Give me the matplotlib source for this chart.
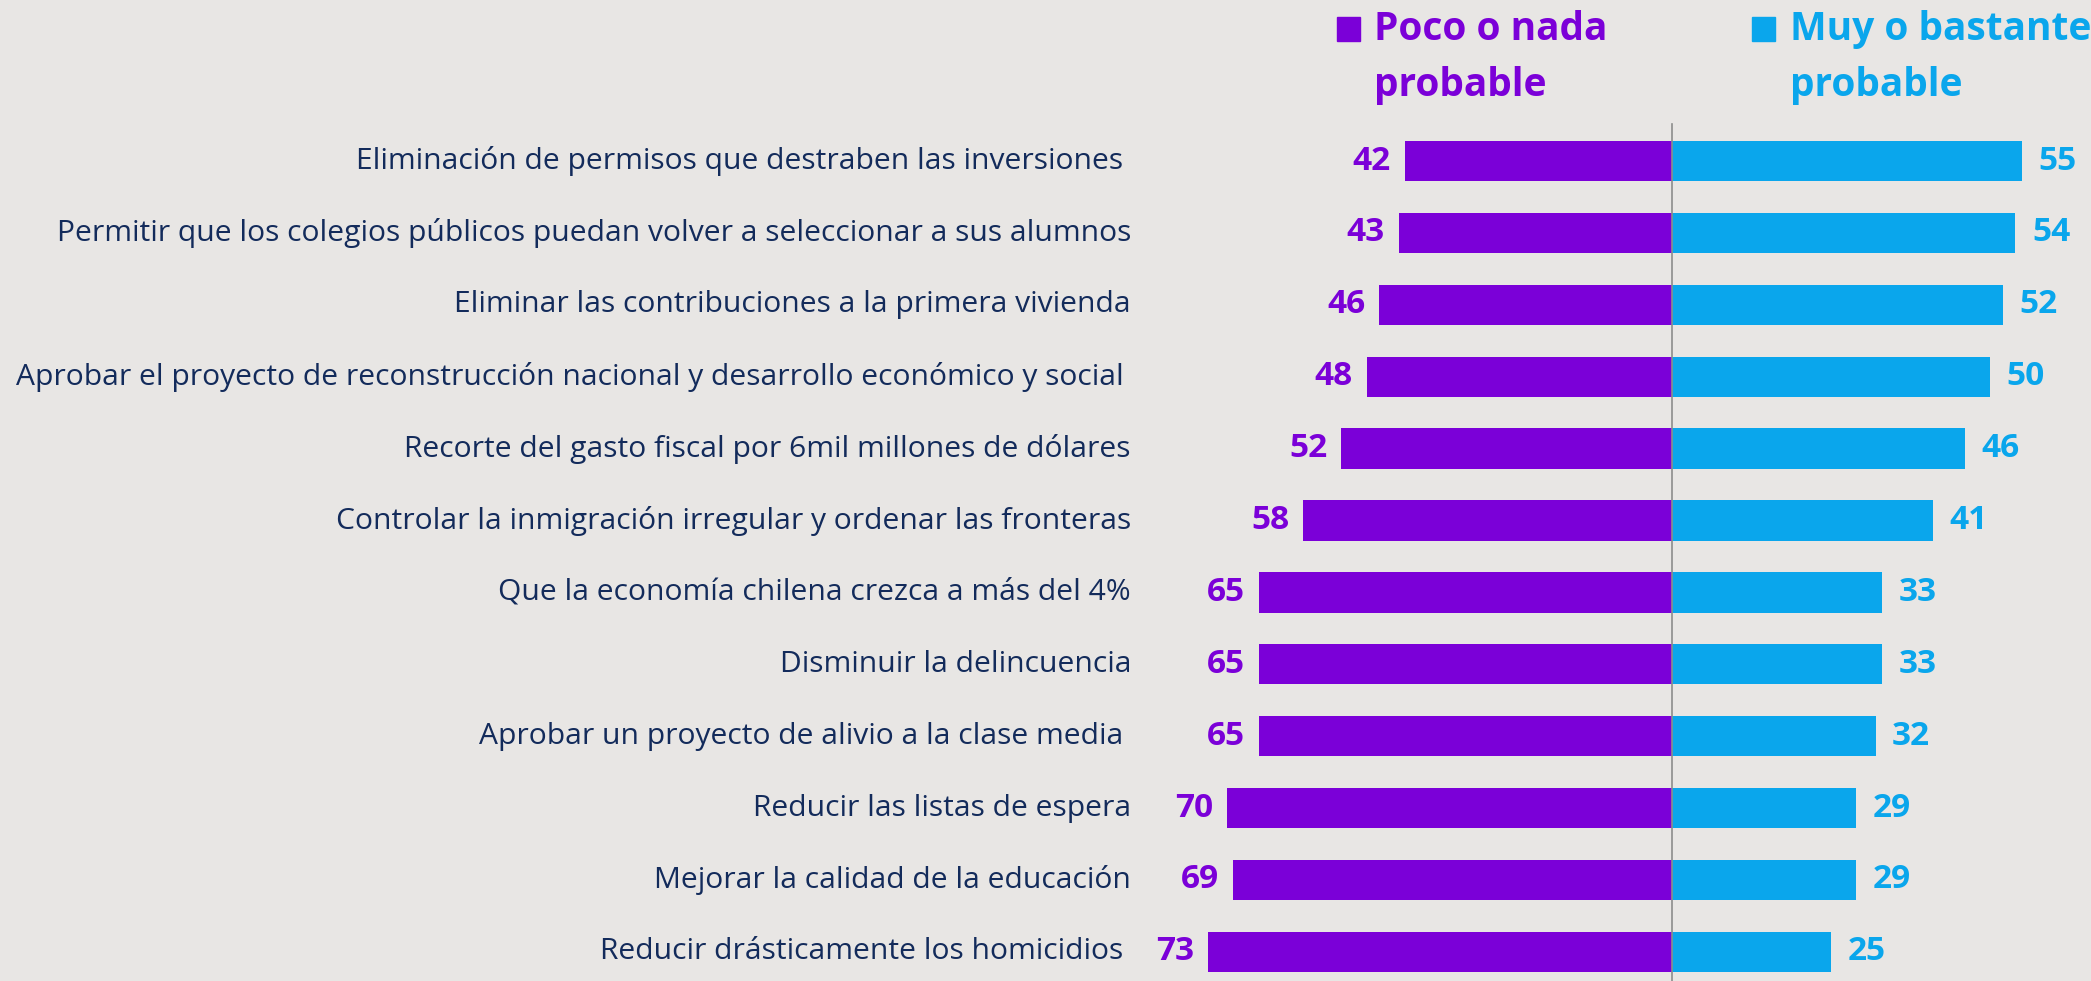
import matplotlib.pyplot as plt

labels = [
    "Eliminación de permisos que destraben las inversiones ",
    "Permitir que los colegios públicos puedan volver a seleccionar a sus alumnos",
    "Eliminar las contribuciones a la primera vivienda",
    "Aprobar el proyecto de reconstrucción nacional y desarrollo económico y social ",
    "Recorte del gasto fiscal por 6mil millones de dólares",
    "Controlar la inmigración irregular y ordenar las fronteras",
    "Que la economía chilena crezca a más del 4%",
    "Disminuir la delincuencia",
    "Aprobar un proyecto de alivio a la clase media ",
    "Reducir las listas de espera",
    "Mejorar la calidad de la educación",
    "Reducir drásticamente los homicidios ",
]
poco = [42, 43, 46, 48, 52, 58, 65, 65, 65, 70, 69, 73]
muy = [55, 54, 52, 50, 46, 41, 33, 33, 32, 29, 29, 25]
series_names = ["Poco o nada\nprobable", "Muy o bastante\nprobable"]

PURPLE = "#7B00D8"
BLUE = "#0AA6EC"
NAVY = "#132B5B"
BG = "#E8E6E4"

W, H = 2091, 981


def main() -> None:
    fig = plt.figure(figsize=(W / 100, H / 100), dpi=100, facecolor=BG)
    ax = fig.add_axes([0, 0, 1, 1])
    ax.set_facecolor(BG)

    ppu = 6.36  # pixels per percentage point
    cx = 1672
    ax.set_xlim(-cx / ppu, (W - cx) / ppu)
    step = 71.9
    y0 = 161
    ax.set_ylim((H - y0) / step, -y0 / step)

    y = list(range(len(labels)))
    ax.barh(y, [-v for v in poco], height=0.56, color=PURPLE)
    ax.barh(y, muy, height=0.56, color=BLUE)
    ax.plot([0, 0], [-(y0 - 124) / step, (H - y0) / step], color="#8C8C8C", lw=1.2)

    label_x = (1131 - cx) / ppu
    for i, (lab, a, b) in enumerate(zip(labels, poco, muy)):
        ax.text(label_x, i, lab, ha="right", va="center", fontsize=21.6,
                color=NAVY, family="Open Sans")
        ax.annotate(str(a), (-a, i), xytext=(-10, 0), textcoords="offset points",
                    ha="right", va="center", fontsize=24, fontweight="bold",
                    color=PURPLE, family="Open Sans")
        ax.annotate(str(b), (b, i), xytext=(12, 0), textcoords="offset points",
                    ha="left", va="center", fontsize=24, fontweight="bold",
                    color=BLUE, family="Open Sans")

    # legend
    for (sx, tx, color, name) in [(1337, 1374, PURPLE, series_names[0]),
                                  (1752, 1790, BLUE, series_names[1])]:
        fig.patches.append(plt.Rectangle((sx / W, 1 - 41 / H), 23 / W, 24 / H,
                                         transform=fig.transFigure, color=color))
        fig.text(tx / W, 1 - 10 / H, name, ha="left", va="top", fontsize=28,
                 fontweight="bold", color=color, family="Open Sans",
                 linespacing=1.58)

    ax.axis("off")
    fig.savefig("out.png", dpi=100, facecolor=BG)


if __name__ == "__main__":
    main()
